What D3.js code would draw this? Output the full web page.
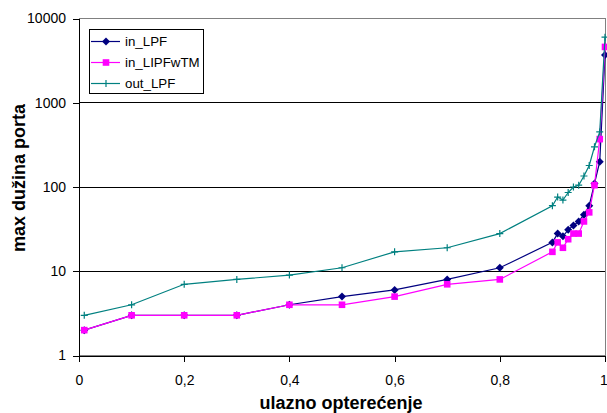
<!DOCTYPE html>
<html>
<head>
<meta charset="utf-8">
<script src="https://cdn.jsdelivr.net/npm/d3@7"></script>
<style>
body { margin: 0; background: #fff; }
svg { display: block; font-family: "Liberation Sans", Arial, sans-serif; }
.axis path, .axis line { stroke: #000; shape-rendering: crispEdges; }
.axis text { font-size: 14px; fill: #000; }
.grid line { stroke: #000; shape-rendering: crispEdges; }
.title { font-weight: bold; fill: #000; }
</style>
</head>
<body>
<svg id="chart"></svg>
<script>
var width = 607;
var height = 413;

// chart values
var load = [0.01, 0.1, 0.2, 0.3, 0.4, 0.5, 0.6, 0.7, 0.8, 0.9, 0.91, 0.92, 0.93, 0.94, 0.95, 0.96, 0.97, 0.98, 0.99, 1.0];
var inLPF = [2, 3, 3, 3, 4, 5, 6, 8, 11, 22, 28, 26, 31, 35, 39, 47, 60, 110, 200, 3700];
var inLIPFwTM = [2, 3, 3, 3, 4, 4, 5, 7, 8, 17, 22, 19, 24, 28, 28, 39, 50, 105, 370, 4600];
var outLPF = [3, 4, 7, 8, 9, 11, 17, 19, 28, 60, 76, 70, 86, 100, 105, 135, 180, 300, 450, 6000];
var seriesNames = ["in_LPF", "in_LIPFwTM", "out_LPF"];
var seriesColors = ["#000080", "#ff00ff", "#008080"];
var xTicks = [0, 0.2, 0.4, 0.6, 0.8, 1];
var yTicks = [1, 10, 100, 1000, 10000];
var xTitle = "ulazno opterećenje";
var yTitle = "max dužina porta";

var plotLeft = 79, plotRight = 605, plotTop = 18.5, plotBottom = 355.5;

var x = d3.scaleLinear().domain([0, 1]).range([plotLeft, plotRight]);
var y = d3.scaleLog().domain([1, 10000]).range([plotBottom, plotTop]);

var svg = d3.select("#chart")
	.attr("width", width)
	.attr("height", height);

// plot area border (grey)
svg.append("rect")
	.attr("x", plotLeft).attr("y", plotTop)
	.attr("width", plotRight - plotLeft).attr("height", plotBottom - plotTop)
	.attr("fill", "none")
	.attr("stroke", "#808080")
	.attr("shape-rendering", "crispEdges");

// gridlines
svg.append("g")
	.attr("class", "grid")
	.selectAll("line")
	.data([10, 100, 1000])
	.enter()
	.append("line")
	.attr("x1", plotLeft).attr("x2", plotRight)
	.attr("y1", function(d) { return y(d); })
	.attr("y2", function(d) { return y(d); });

// axes
svg.append("g")
	.attr("class", "axis")
	.attr("transform", "translate(" + plotLeft + ",0)")
	.call(d3.axisLeft(y).tickValues(yTicks).tickSize(6).tickPadding(7)
		.tickFormat(d3.format("d")));

var xAxis = svg.append("g")
	.attr("class", "axis")
	.attr("transform", "translate(0," + plotBottom + ")")
	.call(d3.axisBottom(x).tickValues(xTicks).tickSize(6).tickPadding(14)
		.tickFormat(function(d) { return String(d).replace(".", ","); }));
// last label sits at the window edge
xAxis.selectAll(".tick text").filter(function(d) { return d == 1; }).attr("dx", -1.5);

svg.selectAll(".axis .domain").attr("stroke", "#000");

// titles
svg.append("text")
	.attr("class", "title")
	.attr("x", 341).attr("y", 409)
	.attr("text-anchor", "middle")
	.attr("font-size", 18)
	.text(xTitle);

svg.append("text")
	.attr("class", "title")
	.attr("transform", "translate(25,178) rotate(-90)")
	.attr("text-anchor", "middle")
	.attr("font-size", 18)
	.text(yTitle);

// series
var series = [inLPF, inLIPFwTM, outLPF].map(function(vals, i) {
	return {
		name: seriesNames[i],
		color: seriesColors[i],
		points: load.map(function(l, j) { return [l, vals[j]]; })
	};
});

var line = d3.line()
	.x(function(d) { return x(d[0]); })
	.y(function(d) { return y(d[1]); });

var markerPaths = [
	"M0,-4L4,0L0,4L-4,0Z",
	"M-3.3,-3.3H3.3V3.3H-3.3Z",
	"M-3.5,0H3.5M0,-3.5V3.5"
];

function drawMarker(g, i, color) {
	var p = g.append("path").attr("d", markerPaths[i]);
	if (i == 2) {
		p.attr("stroke", color).attr("stroke-width", 1.2).attr("fill", "none");
	} else {
		p.attr("fill", color);
	}
}

// series in order, later ones on top
series.forEach(function(s, i) {
	svg.append("path")
	.datum(s.points)
	.attr("d", line)
	.attr("fill", "none")
	.attr("stroke", s.color)
	.attr("stroke-width", 1.2);
	svg.append("g").selectAll("g")
	.data(s.points)
	.enter()
	.append("g")
	.attr("transform", function(d) { return "translate(" + x(d[0]) + "," + y(d[1]) + ")"; })
	.each(function() { drawMarker(d3.select(this), i, s.color); });
});

// legend
var legend = svg.append("g").attr("transform", "translate(89,29)");
legend.append("rect")
	.attr("width", 114).attr("height", 64)
	.attr("fill", "#fff")
	.attr("stroke", "#000")
	.attr("shape-rendering", "crispEdges");

series.forEach(function(s, i) {
	var row = legend.append("g").attr("transform", "translate(0," + (12.5 + i * 21) + ")");
	row.append("line")
	.attr("x1", 2).attr("x2", 31)
	.attr("stroke", s.color)
	.attr("stroke-width", 1.2);
	drawMarker(row.append("g").attr("transform", "translate(17,0)"), i, s.color);
	row.append("text")
	.attr("x", 36).attr("y", 4.5)
	.attr("font-size", 13.3)
	.text(s.name);
});
</script>
</body>
</html>
